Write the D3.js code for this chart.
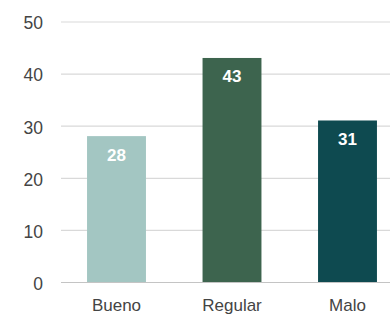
<!DOCTYPE html>
<html>
<head>
<meta charset="utf-8">
<script src="https://cdn.jsdelivr.net/npm/d3@7"></script>
<style>
  body { margin: 0; background: #fff; }
  svg text { font-family: "Liberation Sans", Arial, sans-serif; }
</style>
</head>
<body>
<div id="chart"></div>
<script>
// data
const categories = ["Bueno", "Regular", "Malo"]
const values = [28, 43, 31]
const barColors = ["#a3c6c2", "#3d644e", "#0e4a50"]
const yTicks = [0, 10, 20, 30, 40, 50]

const width = 390
const height = 314

const svg = d3.select("#chart").append("svg")
    .attr("width", width)
    .attr("height", height)

const xScale = d3.scaleBand()
    .domain(categories)
    .range([58.75, 405.25])
    .paddingInner(0.49)
    .paddingOuter(0.245)

const yScale = d3.scaleLinear()
    .domain([0, 50])
    .range([282, 21.5])

// gridlines + y labels
const yAxis = svg.append("g")
    .attr("transform", "translate(61,0)")
    .call(d3.axisLeft(yScale).tickValues(yTicks).tickSize(-(width - 61)).tickPadding(18))

yAxis.select(".domain").remove()
yAxis.selectAll(".tick line")
    .attr("stroke", d => d === 0 ? "#c4c4c4" : "#d9d9d9")
    .attr("stroke-width", 1.2)
yAxis.selectAll(".tick text")
    .attr("fill", "#444")
    .attr("dy", "0.42em")
    .style("font-size", "17.5px")

// bars
svg.selectAll("rect.bar")
    .data(values)
    .enter().append("rect")
    .attr("class", "bar")
    .attr("x", (d, i) => xScale(categories[i]))
    .attr("y", d => yScale(d))
    .attr("width", xScale.bandwidth())
    .attr("height", d => yScale(0) - yScale(d))
    .attr("fill", (d, i) => barColors[i])

// value labels inside bars
svg.selectAll("text.val")
    .data(values)
    .enter().append("text")
    .attr("class", "val")
    .attr("x", (d, i) => xScale(categories[i]) + xScale.bandwidth() / 2)
    .attr("y", d => yScale(d) + 24.5)
    .attr("text-anchor", "middle")
    .attr("fill", "#fff")
    .style("font-size", "17px")
    .style("font-weight", "bold")
    .text(d => d)

// x axis labels
const xAxis = svg.append("g")
    .attr("transform", "translate(0,282)")
    .call(d3.axisBottom(xScale).tickSize(0).tickPadding(17))

xAxis.select(".domain").remove()
xAxis.selectAll(".tick text")
    .attr("fill", "#444")
    .style("font-size", "17px")
</script>
</body>
</html>
